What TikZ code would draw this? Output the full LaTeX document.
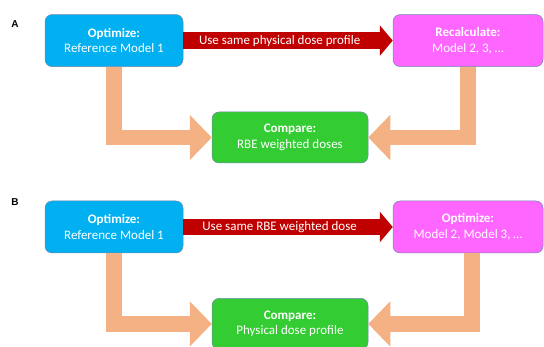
\documentclass[tikz,border=0pt]{standalone}
\usepackage{fontspec}
\setmainfont{Carlito}
\newfontfamily\panelfont{Liberation Sans}
\usetikzlibrary{arrows.meta}
\definecolor{boxblue}{HTML}{00B0F0}
\definecolor{boxpink}{HTML}{FF66FF}
\definecolor{boxgreen}{HTML}{33CC33}
\definecolor{flowred}{HTML}{C00000}
\definecolor{floworange}{HTML}{F4B183}
\definecolor{edgegray}{HTML}{6F87B0}
\tikzset{
  stage/.style={draw=edgegray, line width=0.5pt, rounded corners=7pt,
    minimum height=52pt, align=center, text=white, inner sep=0pt,
    font=\fontsize{13}{15.5}\selectfont},
  transfer/.style={draw=flowred, line width=16.5pt,
    -{Triangle[width=30pt,length=13pt]}},
  feed/.style={draw=floworange, line width=15.5pt, line join=miter,
    -{Triangle[width=44pt,length=22pt]}},
  tag/.style={font=\panelfont\bfseries\fontsize{10}{12}\selectfont},
}
\begin{document}
\begin{tikzpicture}[x=1pt,y=-1pt]
  \useasboundingbox (0,0) rectangle (544,347);
  % panel A
  \node[tag] (labA) at (15,24.5) {A};
  \node[stage, fill=boxblue, minimum width=138pt] (optA) at (114,40.6)
    {\textbf{Optimize:}\\Reference Model 1};
  \node[stage, fill=boxpink, minimum width=150pt] (recA) at (468,40.6)
    {\textbf{Recalculate:}\\Model 2, 3, \dots};
  \node[stage, fill=boxgreen, minimum width=156pt, minimum height=51pt] (cmpA) at (290,137.5)
    {\textbf{Compare:}\\RBE weighted doses};
  \draw[transfer] (optA.east) -- node[pos=0.46, text=white, font=\fontsize{13}{15}\selectfont]
    {Use same physical dose profile} (recA.west);
  \draw[feed] (optA.south) |- (cmpA.west);
  \draw[feed] (recA.south) |- (cmpA.east);
  % panel B
  \node[tag] (labB) at (15,202) {B};
  \begin{scope}[shift={(0,186.4)}]
    \node[stage, fill=boxblue, minimum width=138pt] (optB) at (114,40.6)
      {\textbf{Optimize:}\\Reference Model 1};
    \node[stage, fill=boxpink, minimum width=150pt] (optmB) at (468,40.6)
      {\textbf{Optimize:}\\Model 2, Model 3, \dots};
    \node[stage, fill=boxgreen, minimum width=156pt, minimum height=51pt] (cmpB) at (290,137.5)
      {\textbf{Compare:}\\Physical dose profile};
    \draw[transfer] (optB.east) -- node[pos=0.46, text=white, font=\fontsize{13}{15}\selectfont]
      {Use same RBE weighted dose} (optmB.west);
    \draw[feed] (optB.south) |- (cmpB.west);
    \draw[feed] ([xshift=4pt]optmB.south) |- (cmpB.east);
  \end{scope}
\end{tikzpicture}
\end{document}
